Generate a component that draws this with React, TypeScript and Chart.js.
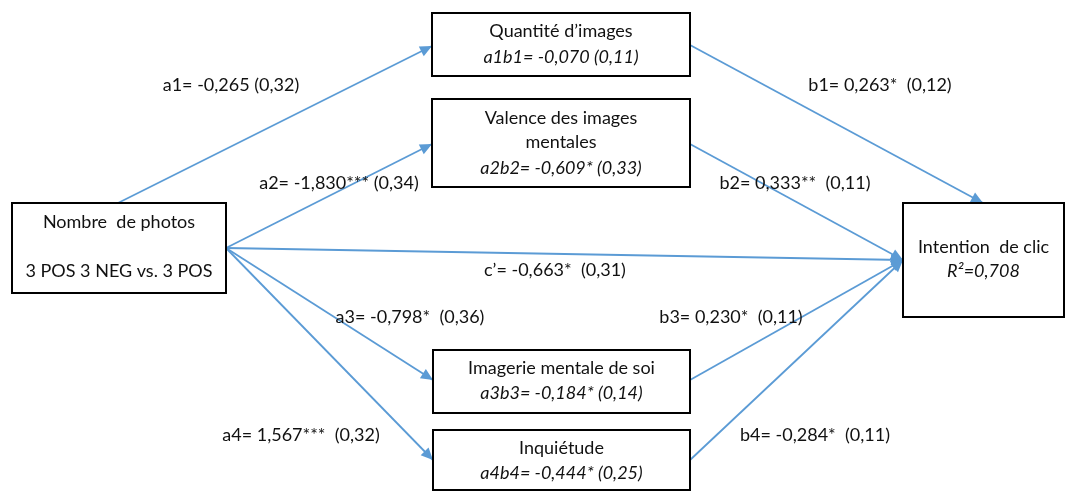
import React, { useEffect, useRef } from "react";
import { Chart, registerables } from "chart.js";

Chart.register(...registerables);

// ---- Data ----
const nodeTitles: string[][] = [
  ["Nombre  de photos", "", "3 POS 3 NEG vs. 3 POS"],
  ["Quantité d’images", "a1b1= -0,070 (0,11)"],
  ["Valence des images", "mentales", "a2b2= -0,609* (0,33)"],
  ["Imagerie mentale de soi", "a3b3= -0,184* (0,14)"],
  ["Inquiétude", "a4b4= -0,444* (0,25)"],
  ["Intention  de clic", "R²=0,708"],
];
const nodeItalic: boolean[][] = [
  [false, false, false],
  [false, true],
  [false, false, true],
  [false, true],
  [false, true],
  [false, true],
];
// box extents in diagram units: [left, top, right, bottom]
const nodeBoxes: number[][] = [
  [12, 203, 226, 293],
  [432, 13, 690, 76],
  [432, 99, 690, 187],
  [433, 350, 690, 413],
  [433, 430, 690, 490],
  [903, 203, 1064, 317],
];
const nodeLineY: number[][] = [
  [222, 246, 271],
  [31, 57],
  [118, 142, 168],
  [368, 393],
  [448, 473],
  [247, 271],
];

const edgeLabels: string[] = [
  "a1= -0,265 (0,32)",
  "a2= -1,830*** (0,34)",
  "c’= -0,663*  (0,31)",
  "a3= -0,798*  (0,36)",
  "a4= 1,567***  (0,32)",
  "b1= 0,263*  (0,12)",
  "b2= 0,333**  (0,11)",
  "b3= 0,230*  (0,11)",
  "b4= -0,284*  (0,11)",
];
const edgeFrom: number[][] = [
  [118, 203], [226, 248], [226, 248], [226, 248], [226, 248],
  [690, 45], [690, 144], [690, 380], [690, 460],
];
const edgeTo: number[][] = [
  [432, 46], [432, 144], [903, 260], [433, 380], [433, 460],
  [983, 203], [903, 260], [903, 260], [903, 260],
];
const edgeLabelPos: number[][] = [
  [231, 85], [339, 183], [555, 270], [410, 317], [301, 435],
  [880, 85], [795, 183], [731, 317], [815, 435],
];

const BLUE = "#5B9BD5";
const FONT = "Lato, 'Open Sans', sans-serif";
const SIZE = 18;

const diagramPlugin = {
  id: "diagram",
  afterDatasetsDraw(chart: any) {
    const ctx: CanvasRenderingContext2D = chart.ctx;
    const xs = chart.scales.x;
    const ys = chart.scales.y;
    const px = (v: number) => xs.getPixelForValue(v);
    const py = (v: number) => ys.getPixelForValue(v);
    ctx.save();
    // arrowheads
    edgeTo.forEach((t, i) => {
      const f = edgeFrom[i];
      const x1 = px(f[0]), y1 = py(f[1]), x2 = px(t[0]), y2 = py(t[1]);
      const ang = Math.atan2(y2 - y1, x2 - x1);
      const L = 12, W = 5.5;
      ctx.beginPath();
      ctx.moveTo(x2, y2);
      ctx.lineTo(x2 - L * Math.cos(ang) + W * Math.sin(ang), y2 - L * Math.sin(ang) - W * Math.cos(ang));
      ctx.lineTo(x2 - L * Math.cos(ang) - W * Math.sin(ang), y2 - L * Math.sin(ang) + W * Math.cos(ang));
      ctx.closePath();
      ctx.fillStyle = BLUE;
      ctx.fill();
    });
    // boxes
    nodeBoxes.forEach((b, i) => {
      const l = px(b[0]), t = py(b[1]), r = px(b[2]), bt = py(b[3]);
      ctx.lineWidth = 2;
      ctx.strokeStyle = "#000";
      ctx.strokeRect(l, t, r - l, bt - t);
      const cx = (l + r) / 2;
      nodeTitles[i].forEach((txt, j) => {
        if (!txt) return;
        ctx.font = `${nodeItalic[i][j] ? "italic " : ""}${SIZE}px ${FONT}`;
        ctx.fillStyle = "#111";
        ctx.textAlign = "center";
        ctx.textBaseline = "middle";
        ctx.fillText(txt, cx, py(nodeLineY[i][j]));
      });
    });
    // edge labels
    edgeLabels.forEach((txt, i) => {
      ctx.font = `${SIZE}px ${FONT}`;
      ctx.fillStyle = "#111";
      ctx.textAlign = "center";
      ctx.textBaseline = "middle";
      ctx.fillText(txt, px(edgeLabelPos[i][0]), py(edgeLabelPos[i][1]));
    });
    ctx.restore();
  },
};

export default function App() {
  const ref = useRef<HTMLCanvasElement>(null);
  useEffect(() => {
    if (!ref.current) return;
    const chart = new Chart(ref.current, {
      type: "scatter",
      data: {
        datasets: edgeFrom.map((f, i) => ({
          label: edgeLabels[i],
          data: [
            { x: f[0], y: f[1] },
            { x: edgeTo[i][0], y: edgeTo[i][1] },
          ],
          showLine: true,
          borderColor: BLUE,
          borderWidth: 1.8,
          pointRadius: 0,
          fill: false,
        })),
      },
      options: {
        responsive: false,
        animation: false,
        layout: { padding: 0 },
        plugins: { legend: { display: false }, tooltip: { enabled: false } },
        scales: {
          x: { type: "linear", min: 0, max: 1068, display: false },
          y: { type: "linear", min: 0, max: 492, reverse: true, display: false },
        },
      },
      plugins: [diagramPlugin],
    });
    return () => chart.destroy();
  }, []);
  return (
    <div style={{ position: "fixed", left: 0, top: 0, width: 1068, height: 492, background: "#fff" }}>
      <canvas ref={ref} width={1068} height={492} />
    </div>
  );
}
